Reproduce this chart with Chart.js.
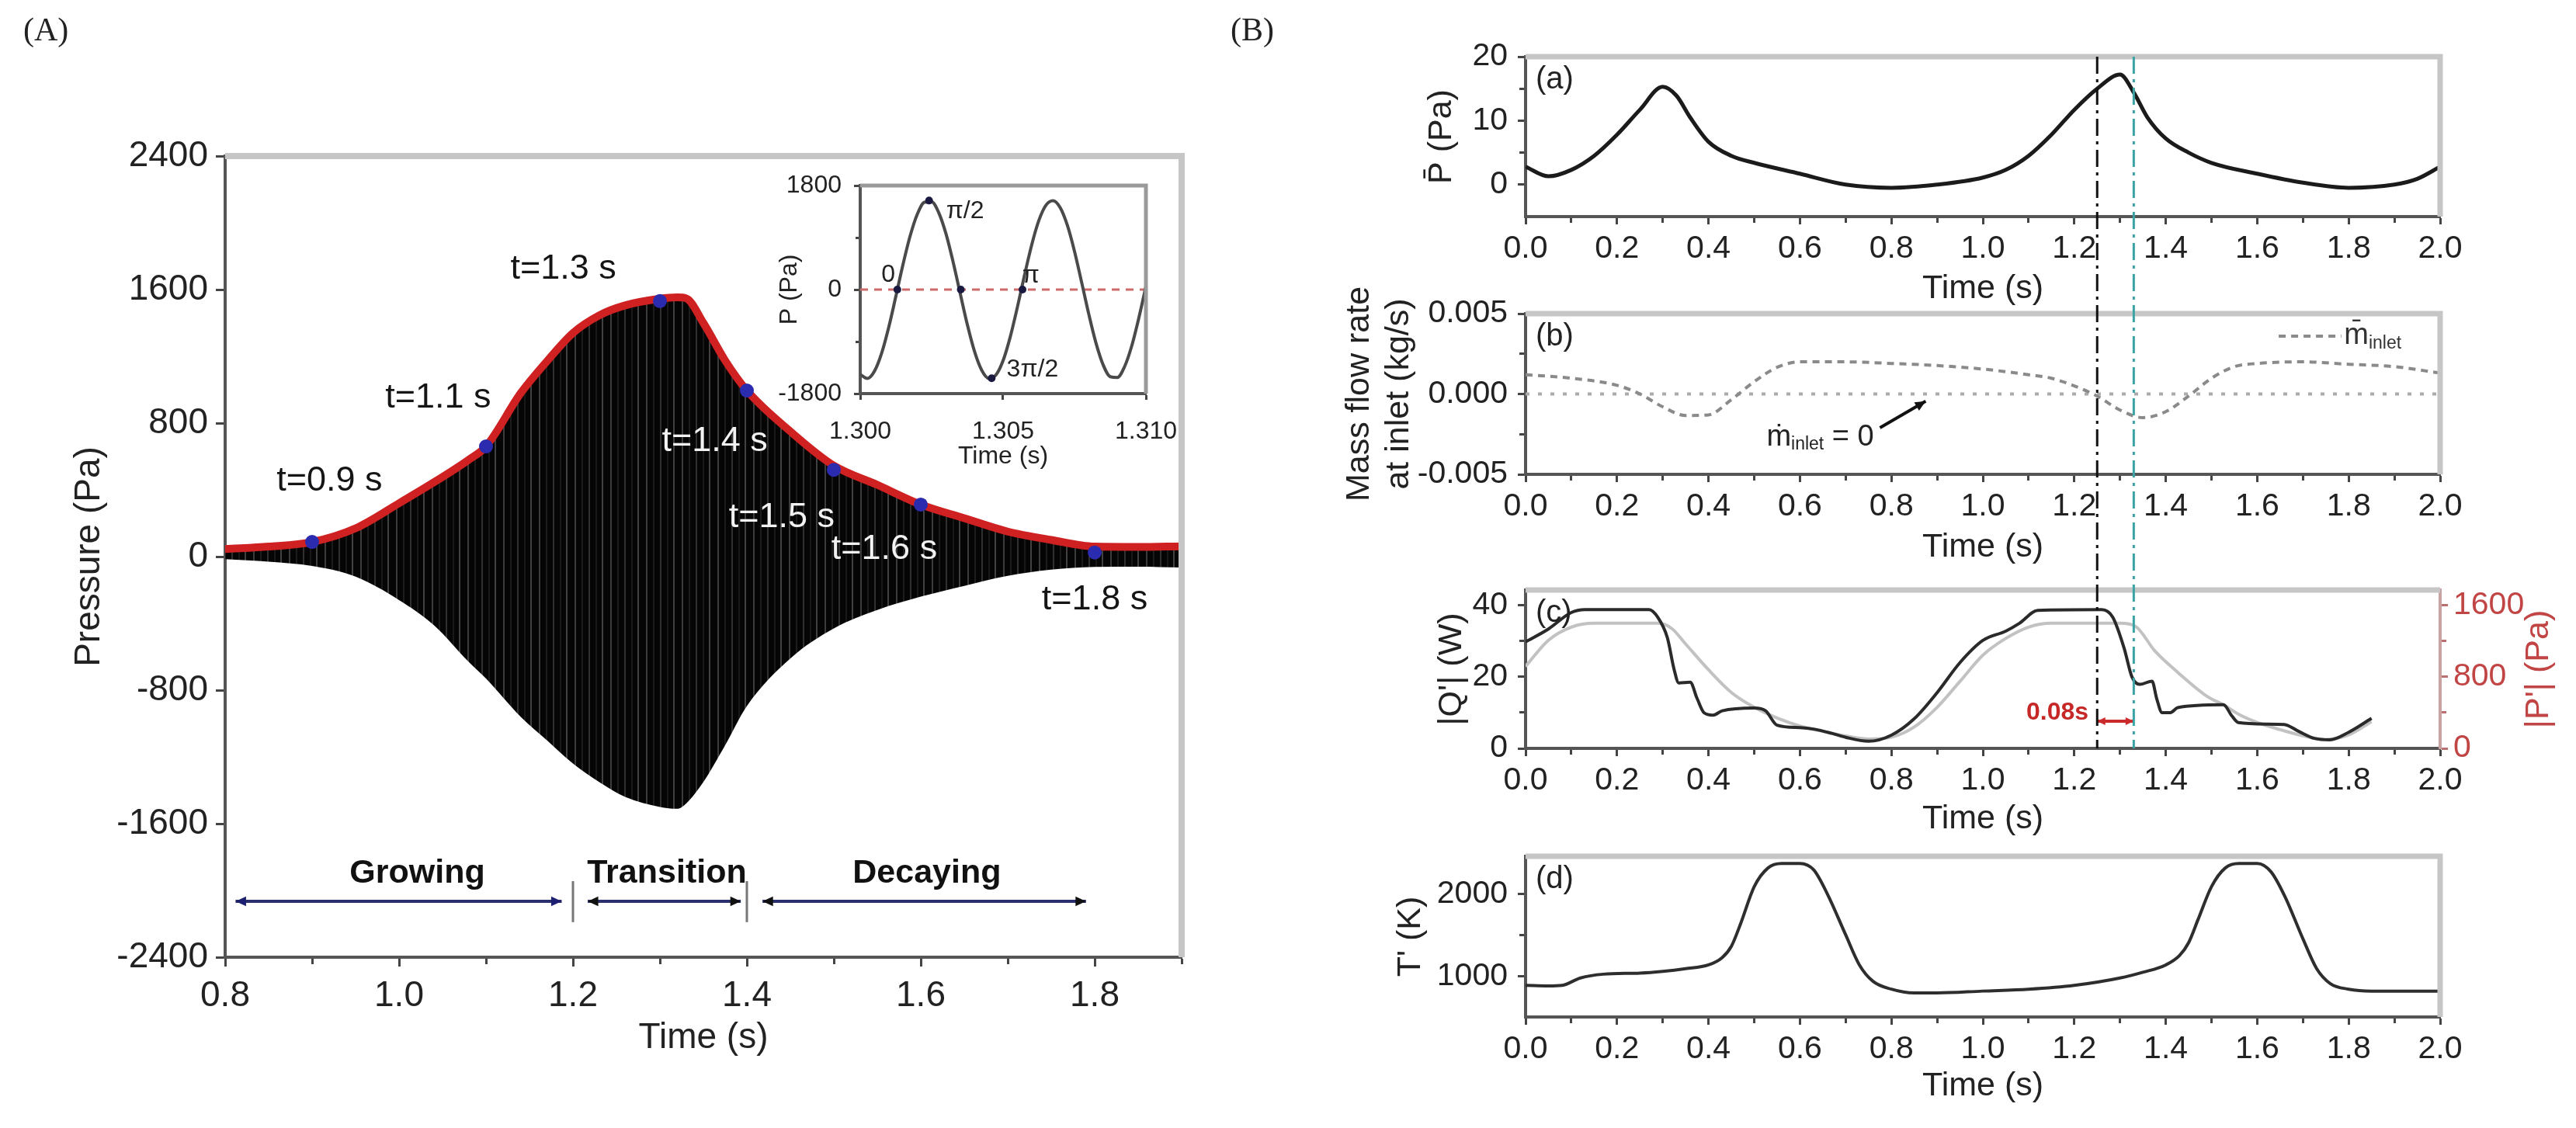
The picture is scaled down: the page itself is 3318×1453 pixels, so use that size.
<!DOCTYPE html>
<html>
<head>
<meta charset="utf-8">
<title>Pressure oscillation and flame response</title>
<script src="https://cdn.jsdelivr.net/npm/chart.js@4.4.1/dist/chart.umd.min.js"></script>
<style>
  html, body { margin: 0; padding: 0; background: #fff; }
  #fig { position: relative; width: 3318px; height: 1453px; overflow: hidden; background: #fff; }
  #fig canvas { position: absolute; left: 0; top: 0; width: 3318px; height: 1453px; }
  .tag { position: absolute; font: 42px "Liberation Serif", "Times New Roman", serif; color: #222; }
</style>
</head>
<body>
<div id="fig">
  <canvas id="cA" width="3318" height="1453"></canvas>
  <canvas id="cInset" width="3318" height="1453"></canvas>
  <canvas id="cBa" width="3318" height="1453"></canvas>
  <canvas id="cBb" width="3318" height="1453"></canvas>
  <canvas id="cBc" width="3318" height="1453"></canvas>
  <canvas id="cBd" width="3318" height="1453"></canvas>
  <div class="tag" style="left:30px;top:14px">(A)</div>
  <div class="tag" style="left:1585px;top:14px">(B)</div>
</div>
<script>
// ---------- Panel (A): pressure envelope ----------
const envTime  = [0.80, 0.85, 0.90, 0.95, 1.00, 1.04, 1.08, 1.10, 1.14, 1.17, 1.20, 1.23, 1.26, 1.30, 1.32, 1.33, 1.35, 1.375, 1.40, 1.45, 1.50, 1.55, 1.60, 1.65, 1.70, 1.75, 1.80, 1.85, 1.90];
const envUpper = [45, 60, 88, 170, 320, 445, 580, 660, 980, 1170, 1340, 1445, 1505, 1545, 1553, 1548, 1400, 1175, 995, 750, 545, 430, 312, 230, 150, 100, 60, 58, 62];
const envLower = [-15, -30, -56, -120, -260, -410, -630, -730, -960, -1100, -1240, -1350, -1440, -1500, -1511, -1480, -1350, -1130, -895, -610, -430, -320, -240, -175, -115, -78, -62, -60, -65];

const snapTime   = [0.9, 1.1, 1.3, 1.4, 1.5, 1.6, 1.8];
const snapP      = [88, 660, 1531, 995, 520, 312, 25];
const snapLabels = ['t=0.9 s', 't=1.1 s', 't=1.3 s', 't=1.4 s', 't=1.5 s', 't=1.6 s', 't=1.8 s'];
const snapLabelT = [0.92, 1.045, 1.189, 1.363, 1.44, 1.558, 1.80];
const snapLabelP = [455, 953, 1721, 690, 233, 46, -260];

const phaseNames = ['Growing', 'Transition', 'Decaying'];
const phaseFrom  = [0.812, 1.217, 1.418];
const phaseTo    = [1.187, 1.393, 1.79];
const phaseNameT = [1.021, 1.308, 1.607];
const phaseSepT  = [1.2, 1.4];

const aTicksX = [0.8, 1.0, 1.2, 1.4, 1.6, 1.8];
const aMinorX = [0.9, 1.1, 1.3, 1.5, 1.7, 1.9];
const aTicksY = [-2400, -1600, -800, 0, 800, 1600, 2400];

// inset: one slice of the oscillation
const insetTime = [1.3000, 1.30025, 1.3005, 1.30075, 1.3010, 1.30125, 1.3015, 1.30175, 1.3020, 1.30225,
                   1.3025, 1.30275, 1.3030, 1.30325, 1.3035, 1.30375, 1.3040, 1.30425, 1.3045, 1.30475,
                   1.3050, 1.30525, 1.3055, 1.30575, 1.3060, 1.30625, 1.3065, 1.30675, 1.3070, 1.30725,
                   1.3075, 1.30775, 1.3080, 1.30825, 1.3085, 1.30875, 1.3090, 1.30925, 1.3095, 1.30975, 1.3100];
const insetP = [-1466, -1538, -1411, -1100, -648, -111, 440, 933, 1307, 1511,
                1519, 1329, 969, 481, -68, -609, -1070, -1393, -1535, -1478,
                -1230, -821, -307, 248, 770, 1193, 1460, 1539, 1417, 1112,
                663, 126, -425, -922, -1299, -1508, -1521, -1336, -980, -494, 54];
const markT = [1.3013, 1.30241, 1.30352, 1.3046, 1.30568];
const markP = [0, 1540, 0, -1535, 0];
const phaseLabels = ['0', 'π/2', 'π', '3π/2'];
const phaseLabelT = [1.30098, 1.30367, 1.30597, 1.30603];
const phaseLabelP = [257, 1353, 240, -1380];

// ---------- Panel (B) ----------
const bTicksX = [0, 0.2, 0.4, 0.6, 0.8, 1.0, 1.2, 1.4, 1.6, 1.8, 2.0];
const bMinorX = [0.1, 0.3, 0.5, 0.7, 0.9, 1.1, 1.3, 1.5, 1.7, 1.9];

// (a) mean pressure
const pbTime = [0, 0.05, 0.1, 0.15, 0.2, 0.25, 0.3, 0.33, 0.36, 0.4, 0.45, 0.5, 0.6, 0.7, 0.8, 0.9, 1.0, 1.05, 1.1, 1.15, 1.2, 1.25, 1.3, 1.33, 1.36, 1.4, 1.45, 1.5, 1.6, 1.7, 1.8, 1.9, 1.95, 2.0];
const pbVal  = [2.8, 1.3, 2.3, 4.5, 7.8, 11.7, 15.3, 13.9, 10.5, 6.7, 4.5, 3.4, 1.7, 0, -0.5, 0, 1.1, 2.3, 4.5, 7.8, 11.7, 15, 17.2, 14.4, 10.5, 7.2, 5, 3.4, 1.7, 0.3, -0.5, 0, 0.9, 2.8];

// (b) mass flow rate at inlet
const mfTime = [0, 0.1, 0.2, 0.25, 0.3, 0.35, 0.4, 0.45, 0.5, 0.55, 0.6, 0.7, 0.8, 0.9, 1.0, 1.1, 1.15, 1.2, 1.25, 1.3, 1.35, 1.4, 1.45, 1.5, 1.55, 1.6, 1.7, 1.8, 1.9, 2.0];
const mfVal  = [0.0012, 0.00098, 0.00054, 0, -0.0008, -0.00134, -0.0013, -0.00035, 0.00077, 0.00166, 0.002, 0.002, 0.0019, 0.00177, 0.00155, 0.0012, 0.00098, 0.0005, -0.00013, -0.001, -0.00147, -0.0011, -0.00013, 0.00098, 0.0017, 0.0019, 0.002, 0.00185, 0.0017, 0.0013];
const zeroLineT = [0, 2.0];

// (c) heat release |Q'| and pressure amplitude |P'|
const qTime = [0, 0.05, 0.1, 0.13, 0.27, 0.29, 0.31, 0.325, 0.335, 0.36, 0.375, 0.39, 0.41, 0.43, 0.5, 0.525, 0.55, 0.6, 0.63, 0.67, 0.7, 0.75, 0.8, 0.85, 0.9, 0.95, 1.0, 1.05, 1.08, 1.12, 1.26, 1.284, 1.309, 1.326, 1.343, 1.37, 1.38, 1.392, 1.41, 1.426, 1.526, 1.545, 1.559, 1.62, 1.659, 1.69, 1.725, 1.759, 1.8, 1.85];
const qVal  = [29.8, 33.4, 38, 38.8, 38.8, 36.5, 31, 22, 18.3, 18.5, 14, 10, 9.3, 10.5, 11.3, 10.5, 6.5, 5.8, 5.4, 4.2, 3.1, 2, 3.7, 8.3, 15.6, 24, 30.2, 32.8, 35, 38.6, 38.8, 36.7, 28, 20, 17.9, 18.8, 14, 10, 10, 11.4, 12.2, 9, 7.2, 6.8, 6.7, 4.8, 2.8, 2.4, 4.5, 8.4];
const pTime = [0, 0.05, 0.1, 0.15, 0.29, 0.32, 0.35, 0.4, 0.45, 0.5, 0.55, 0.6, 0.65, 0.7, 0.75, 0.8, 0.85, 0.9, 0.95, 1.0, 1.05, 1.1, 1.15, 1.3, 1.334, 1.376, 1.426, 1.492, 1.526, 1.56, 1.6, 1.65, 1.7, 1.75, 1.8, 1.85];
const pVal  = [917, 1210, 1357, 1400, 1400, 1340, 1168, 880, 626, 460, 340, 250, 190, 140, 105, 125, 240, 460, 750, 1043, 1230, 1357, 1400, 1400, 1365, 1091, 852, 576, 488, 380, 290, 210, 140, 100, 150, 300];
const lagFrom = 1.25, lagTo = 1.33, lagLabel = '0.08s';

// (d) temperature
const tTime = [0, 0.05, 0.08, 0.12, 0.17, 0.25, 0.3, 0.35, 0.4, 0.43, 0.45, 0.47, 0.5, 0.53, 0.56, 0.6, 0.63, 0.66, 0.7, 0.73, 0.76, 0.8, 0.85, 0.9, 1.0, 1.1, 1.2, 1.3, 1.35, 1.4, 1.43, 1.45, 1.47, 1.5, 1.53, 1.56, 1.6, 1.63, 1.66, 1.7, 1.73, 1.76, 1.8, 1.85, 2.0];
const tVal  = [886, 879, 886, 976, 1022, 1036, 1057, 1090, 1135, 1225, 1362, 1634, 2090, 2317, 2373, 2373, 2295, 2000, 1502, 1135, 934, 839, 793, 793, 816, 839, 886, 976, 1046, 1135, 1249, 1407, 1680, 2090, 2317, 2373, 2373, 2272, 1976, 1453, 1090, 907, 839, 816, 816];

// vertical markers through (a)-(c)
const markerTime = [1.25, 1.33];

// ---------- helpers ----------
const FONT = '"Liberation Sans", Arial, Helvetica, sans-serif';
Chart.defaults.font.family = FONT;
Chart.defaults.color = '#222';

const pts = (xs, ys) => xs.map((x, i) => ({x: x, y: ys[i]}));
const charts = {};

function linAxis(o) {
  const tl = o.tl, bw = o.bw || 4;
  const mLen = Math.round(tl * 0.55);
  return {
    type: 'linear', position: o.pos, min: o.min, max: o.max,
    afterBuildTicks: s => {
      s.ticks = o.major.map(v => ({value: v}))
        .concat((o.minor || []).map(v => ({value: v, minor: true})))
        .sort((a, b) => a.value - b.value);
    },
    afterFit: s => {
      if (o.pos === 'left' || o.pos === 'right') s.width = o.size; else s.height = o.size;
    },
    grid: {
      drawOnChartArea: false, drawTicks: true, tickLength: tl, tickWidth: 3,
      tickColor: o.tickColor || '#444',
      tickBorderDash: c => (c.tick && c.tick.minor)
        ? (o.pos === 'left' ? [0, tl - bw / 2 - mLen, mLen, 400] : [mLen, 400]) : []
    },
    border: {display: true, color: o.borderColor || '#555', width: bw},
    ticks: {
      autoSkip: false, maxRotation: 0, minRotation: 0, padding: o.pad,
      color: o.labelColor || '#222', font: {size: o.fs},
      callback: (v, i, t) => (t[i] && t[i].minor) ? '' : o.fmt(v)
    },
    title: o.title ? {display: true, text: o.title, color: o.labelColor || '#222',
                      font: {size: o.ts}, padding: o.tpad} : {display: false}
  };
}

function baseOptions(padding, scales) {
  return {
    responsive: false, animation: false, devicePixelRatio: 1, events: [],
    layout: {padding: padding},
    plugins: {legend: {display: false}, tooltip: {enabled: false}},
    scales: scales
  };
}

function frameTopRight(ctx, a, color, width, right = true) {
  ctx.save();
  ctx.strokeStyle = color; ctx.lineWidth = width;
  ctx.beginPath();
  ctx.moveTo(a.left, a.top); ctx.lineTo(a.right, a.top);
  if (right) ctx.lineTo(a.right, a.bottom);
  ctx.stroke();
  ctx.restore();
}

function label(ctx, s, x, y, size, color, align = 'center', weight = '') {
  ctx.font = `${weight} ${size}px ${FONT}`;
  ctx.fillStyle = color; ctx.textAlign = align; ctx.textBaseline = 'middle';
  ctx.fillText(s, x, y);
}

function subText(ctx, parts, x, y, size, color) {
  ctx.textAlign = 'left'; ctx.textBaseline = 'middle'; ctx.fillStyle = color;
  let cx = x;
  parts.forEach(([s, sub]) => {
    const fs = sub ? Math.round(size * 0.6) : size;
    ctx.font = `${fs}px ${FONT}`;
    ctx.fillText(s, cx, sub ? y + size * 0.25 : y);
    cx += ctx.measureText(s).width;
  });
}

function head(ctx, x, y, ang, size) {
  ctx.save();
  ctx.translate(x, y); ctx.rotate(ang);
  ctx.beginPath(); ctx.moveTo(0, 0); ctx.lineTo(-size * 1.5, -size * 0.7); ctx.lineTo(-size * 1.5, size * 0.7);
  ctx.closePath(); ctx.fill();
  ctx.restore();
}

function streakPattern() {
  const c = document.createElement('canvas');
  c.width = 46; c.height = 8;
  const g = c.getContext('2d');
  g.fillStyle = '#050505'; g.fillRect(0, 0, 46, 8);
  [[4, 0.28], [13, 0.12], [22, 0.22], [31, 0.1], [39, 0.3]].forEach(([x, al]) => {
    g.fillStyle = `rgba(205,205,205,${al})`; g.fillRect(x, 0, 2, 8);
  });
  return g.createPattern(c, 'repeat');
}

// ---------- Panel A ----------
const panelADeco = {
  id: 'panelADeco',
  afterDatasetsDraw(chart) {
    const {ctx, chartArea: a, scales: {x, y}} = chart;
    frameTopRight(ctx, a, '#c6c6c6', 8);
    ctx.save();
    // snapshot labels; the ones over the dark envelope are light
    snapLabels.forEach((s, i) => {
      const onDark = i >= 3 && i <= 5;
      label(ctx, s, x.getPixelForValue(snapLabelT[i]), y.getPixelForValue(snapLabelP[i]), 45, onDark ? '#f2f2f2' : '#151515');
    });
    // phase arrows
    const ya = y.getPixelForValue(-2065);
    ctx.strokeStyle = '#2a2f6e'; ctx.fillStyle = '#1d2070'; ctx.lineWidth = 4;
    phaseNames.forEach((n, i) => {
      const x1 = x.getPixelForValue(phaseFrom[i]), x2 = x.getPixelForValue(phaseTo[i]);
      ctx.beginPath(); ctx.moveTo(x1, ya); ctx.lineTo(x2, ya); ctx.stroke();
      head(ctx, x1, ya, Math.PI, 9);
      head(ctx, x2, ya, 0, 9);
      label(ctx, n, x.getPixelForValue(phaseNameT[i]), y.getPixelForValue(-1898), 43, '#111', 'center', 'bold');
    });
    ctx.strokeStyle = '#777'; ctx.lineWidth = 3;
    phaseSepT.forEach(t => {
      const px = x.getPixelForValue(t);
      ctx.beginPath(); ctx.moveTo(px, y.getPixelForValue(-1944)); ctx.lineTo(px, y.getPixelForValue(-2190)); ctx.stroke();
    });
    ctx.restore();
  }
};

charts.A = new Chart('cA', {
  type: 'line',
  data: {datasets: [
    {data: pts(snapTime, snapP), showLine: false, pointRadius: 9, pointBackgroundColor: '#2b2bb0', pointBorderWidth: 0},
    {data: pts(envTime, envUpper), borderColor: '#cf2121', borderWidth: 10, pointRadius: 0,
     fill: '+1', backgroundColor: streakPattern(), cubicInterpolationMode: 'monotone'},
    {data: pts(envTime, envLower), borderWidth: 0, borderColor: 'rgba(0,0,0,0)', pointRadius: 0, fill: false, cubicInterpolationMode: 'monotone'}
  ]},
  options: baseOptions({left: 50, top: 201, right: 1796, bottom: 88}, {
    x: linAxis({pos: 'bottom', min: 0.8, max: 1.9, major: aTicksX, minor: aMinorX, fmt: v => v.toFixed(1),
                size: 132, tl: 12, pad: 11, fs: 46, title: 'Time (s)', ts: 46, tpad: {top: 0, bottom: 0}}),
    y: linAxis({pos: 'left', min: -2400, max: 2400, major: aTicksY, fmt: v => String(v),
                size: 240, tl: 12, pad: 10, fs: 46, title: 'Pressure (Pa)', ts: 46, tpad: {top: 38, bottom: 0}})
  }),
  plugins: [panelADeco]
});

// ---------- Inset ----------
const insetDeco = {
  id: 'insetDeco',
  afterDatasetsDraw(chart) {
    const {ctx, chartArea: a, scales: {x, y}} = chart;
    frameTopRight(ctx, a, '#9a9a9a', 5);
    ctx.save();
    phaseLabels.forEach((s, i) => label(ctx, s, x.getPixelForValue(phaseLabelT[i]), y.getPixelForValue(phaseLabelP[i]), 32, '#222'));
    ctx.restore();
  }
};

charts.inset = new Chart('cInset', {
  type: 'line',
  data: {datasets: [
    {data: pts(markT, markP), showLine: false, pointRadius: 5, pointBackgroundColor: '#1a1a40', pointBorderWidth: 0},
    {data: pts(insetTime, insetP), borderColor: '#4a4a4a', borderWidth: 4, pointRadius: 0, cubicInterpolationMode: 'monotone'},
    {data: pts([1.300, 1.310], [0, 0]), borderColor: '#cf6a6a', borderWidth: 3, borderDash: [10, 8], pointRadius: 0}
  ]},
  options: baseOptions({left: 998, top: 239, right: 1842, bottom: 846}, {
    x: linAxis({pos: 'bottom', min: 1.300, max: 1.310, major: [1.300, 1.305, 1.310], fmt: v => v.toFixed(3),
                size: 100, tl: 8, pad: 22, fs: 32, title: 'Time (s)', ts: 32, tpad: {top: 0, bottom: 0}}),
    y: linAxis({pos: 'left', min: -1800, max: 1800, major: [-1800, 0, 1800], minor: [-900, 900], fmt: v => String(v),
                size: 110, tl: 8, pad: 16, fs: 32, title: 'P (Pa)', ts: 32, tpad: {top: 0, bottom: 0}})
  }),
  plugins: [insetDeco]
});

// ---------- Panel B shared ----------
function bX(titlePadBottom) {
  return linAxis({pos: 'bottom', min: 0, max: 2.0, major: bTicksX, minor: bMinorX, fmt: v => v.toFixed(1),
                  size: 120, tl: 10, pad: 7, fs: 41, title: 'Time (s)', ts: 43, tpad: {top: 0, bottom: titlePadBottom}});
}

function panelTag(tag) {
  return {
    id: 'tag' + tag,
    afterDatasetsDraw(chart) {
      const {ctx, chartArea: a} = chart;
      ctx.save();
      label(ctx, tag, a.left + 13, a.top + 30, 40, '#222', 'left');
      ctx.restore();
    }
  };
}

// (a)
charts.Ba = new Chart('cBa', {
  type: 'line',
  data: {datasets: [
    {data: pts(pbTime, pbVal), borderColor: '#1b1b1b', borderWidth: 5, pointRadius: 0, cubicInterpolationMode: 'monotone'}
  ]},
  options: baseOptions({left: 1785, top: 73, right: 175, bottom: 1054}, {
    x: bX(1),
    y: linAxis({pos: 'left', min: -5, max: 20, major: [0, 10, 20], minor: [5, 15], fmt: v => String(v),
                size: 180, tl: 10, pad: 13, fs: 41, title: 'P\u0304 (Pa)', ts: 43, tpad: {top: 46, bottom: 0}})
  }),
  plugins: [{id: 'fa', afterDatasetsDraw(c) { frameTopRight(c.ctx, c.chartArea, '#c6c6c6', 7); }}, panelTag('(a)')]
});

// (b)
charts.Bb = new Chart('cBb', {
  type: 'line',
  data: {datasets: [
    {data: pts(mfTime, mfVal), borderColor: '#8a8a8a', borderWidth: 4, borderDash: [9, 7], pointRadius: 0, cubicInterpolationMode: 'monotone'},
    {data: pts(zeroLineT, [0, 0]), borderColor: '#ababab', borderWidth: 4, borderDash: [5, 11], pointRadius: 0}
  ]},
  options: baseOptions({left: 1725, top: 404, right: 175, bottom: 722}, {
    x: bX(0),
    y: linAxis({pos: 'left', min: -0.005, max: 0.005, major: [-0.005, 0, 0.005], minor: [-0.0025, 0.0025], fmt: v => v.toFixed(3),
                size: 240, tl: 10, pad: 13, fs: 41, title: ['Mass flow rate', 'at inlet (kg/s)'], ts: 43, tpad: {top: 0, bottom: 0}})
  }),
  plugins: [{
    id: 'fb',
    afterDatasetsDraw(chart) {
      const {ctx, chartArea: a, scales: {x, y}} = chart;
      frameTopRight(ctx, a, '#c6c6c6', 7);
      ctx.save();
      // legend
      ctx.strokeStyle = '#8a8a8a'; ctx.lineWidth = 4; ctx.setLineDash([9, 7]);
      ctx.beginPath(); ctx.moveTo(x.getPixelForValue(1.647), y.getPixelForValue(0.0036));
      ctx.lineTo(x.getPixelForValue(1.784), y.getPixelForValue(0.0036)); ctx.stroke();
      ctx.setLineDash([]);
      subText(ctx, [['m\u0304', false], ['inlet', true]], x.getPixelForValue(1.79), y.getPixelForValue(0.0036), 38, '#333');
      // zero-flow annotation
      subText(ctx, [['\u1E41', false], ['inlet', true], [' = 0', false]], x.getPixelForValue(0.527), y.getPixelForValue(-0.0027), 38, '#222');
      const x1 = x.getPixelForValue(0.775), y1 = y.getPixelForValue(-0.0021);
      const x2 = x.getPixelForValue(0.875), y2 = y.getPixelForValue(-0.00045);
      ctx.strokeStyle = '#111'; ctx.fillStyle = '#111'; ctx.lineWidth = 4;
      ctx.beginPath(); ctx.moveTo(x1, y1); ctx.lineTo(x2, y2); ctx.stroke();
      head(ctx, x2, y2, Math.atan2(y2 - y1, x2 - x1), 9);
      ctx.restore();
    }
  }, panelTag('(b)')]
});

// (c)
charts.Bc = new Chart('cBc', {
  type: 'line',
  data: {datasets: [
    {data: pts(qTime, qVal), borderColor: '#2a2a2a', borderWidth: 4, pointRadius: 0, yAxisID: 'y', cubicInterpolationMode: 'monotone'},
    {data: pts(pTime, pVal), borderColor: '#c2c2c2', borderWidth: 4, pointRadius: 0, yAxisID: 'y2', cubicInterpolationMode: 'monotone'}
  ]},
  options: baseOptions({left: 1785, top: 760, right: 25, bottom: 369}, {
    x: bX(3),
    y: linAxis({pos: 'left', min: 0, max: 44.3, major: [0, 20, 40], minor: [10, 30], fmt: v => String(v),
                size: 180, tl: 10, pad: 13, fs: 41, title: "|Q'| (W)", ts: 43, tpad: {top: 59, bottom: 0}}),
    y2: linAxis({pos: 'right', min: 0, max: 1772, major: [0, 800, 1600], minor: [400, 1200], fmt: v => String(v),
                 size: 150, tl: 10, pad: 7, fs: 41, labelColor: '#c24545', tickColor: '#b87070', borderColor: '#caa2a2'})
  }),
  plugins: [{
    id: 'fc',
    afterDatasetsDraw(chart) {
      const {ctx, chartArea: a, scales: {x, y}} = chart;
      frameTopRight(ctx, a, '#c6c6c6', 7, false);
      ctx.save();
      // right axis title, read bottom-to-top
      ctx.translate(a.right + 127, (a.top + a.bottom) / 2);
      ctx.rotate(-Math.PI / 2);
      label(ctx, "|P'| (Pa)", 0, 0, 43, '#c24545');
      ctx.restore();
      ctx.save();
      // phase lag annotation
      const yl = y.getPixelForValue(7.6);
      const xl1 = x.getPixelForValue(lagFrom), xl2 = x.getPixelForValue(lagTo);
      ctx.strokeStyle = '#cc2b2b'; ctx.fillStyle = '#cc2b2b'; ctx.lineWidth = 4;
      ctx.beginPath(); ctx.moveTo(xl1, yl); ctx.lineTo(xl2, yl); ctx.stroke();
      head(ctx, xl1, yl, Math.PI, 7); head(ctx, xl2, yl, 0, 7);
      label(ctx, lagLabel, x.getPixelForValue(1.163), y.getPixelForValue(10), 32, '#c62828', 'center', 'bold');
      // vertical markers spanning (a) to (c)
      const top = charts.Ba ? charts.Ba.chartArea.top : a.top;
      const cols = ['#111111', '#3aa3a3'];
      ctx.lineWidth = 3; ctx.setLineDash([22, 7, 4, 7]);
      markerTime.forEach((t, i) => {
        const px = x.getPixelForValue(t);
        ctx.strokeStyle = cols[i];
        ctx.beginPath(); ctx.moveTo(px, top); ctx.lineTo(px, a.bottom); ctx.stroke();
      });
      ctx.restore();
    }
  }, panelTag('(c)')]
});

// (d)
charts.Bd = new Chart('cBd', {
  type: 'line',
  data: {datasets: [
    {data: pts(tTime, tVal), borderColor: '#2e2e2e', borderWidth: 4, pointRadius: 0, cubicInterpolationMode: 'monotone'}
  ]},
  options: baseOptions({left: 1785, top: 1103, right: 175, bottom: 23}, {
    x: bX(5),
    y: linAxis({pos: 'left', min: 500, max: 2460, major: [1000, 2000], minor: [1500], fmt: v => String(v),
                size: 180, tl: 10, pad: 13, fs: 41, title: "T' (K)", ts: 43, tpad: {top: 6, bottom: 0}})
  }),
  plugins: [{id: 'fd', afterDatasetsDraw(c) { frameTopRight(c.ctx, c.chartArea, '#c6c6c6', 7); }}, panelTag('(d)')]
});
</script>
</body>
</html>
